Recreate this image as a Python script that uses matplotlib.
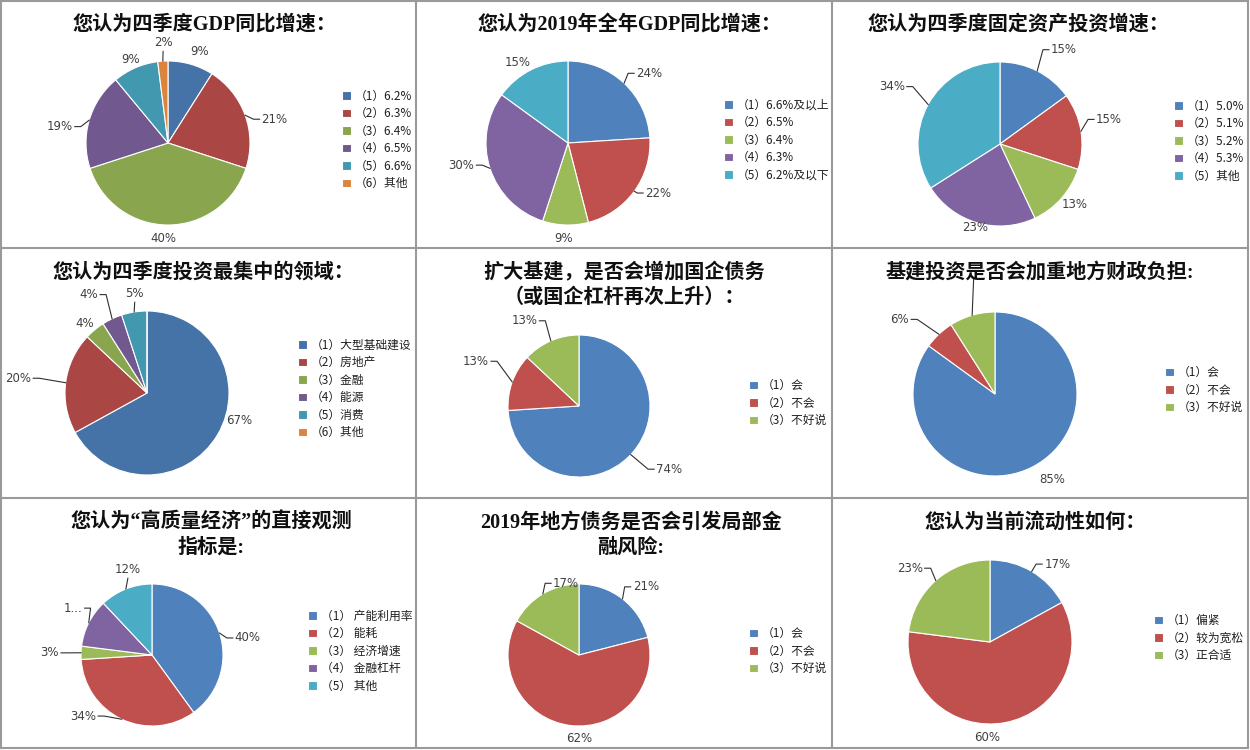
import matplotlib
matplotlib.use('Agg')
import matplotlib.pyplot as plt
import numpy as np
from matplotlib.lines import Line2D

plt.rcParams['font.family'] = ['Noto Sans CJK SC', 'DejaVu Sans']

W, H = 1250, 750

# ---------------- data ----------------
q1_title = ['您认为四季度GDP同比增速：']
q1_cats = ['（1）6.2%', '（2）6.3%', '（3）6.4%', '（4）6.5%', '（5）6.6%', '（6）其他']
q1_vals = [9, 21, 40, 19, 9, 2]

q2_title = ['您认为2019年全年GDP同比增速：']
q2_cats = ['（1）6.6%及以上', '（2）6.5%', '（3）6.4%', '（4）6.3%', '（5）6.2%及以下']
q2_vals = [24, 22, 9, 30, 15]

q3_title = ['您认为四季度固定资产投资增速：']
q3_cats = ['（1）5.0%', '（2）5.1%', '（3）5.2%', '（4）5.3%', '（5）其他']
q3_vals = [15, 15, 13, 23, 34]

q4_title = ['您认为四季度投资最集中的领域：']
q4_cats = ['（1）大型基础建设', '（2）房地产', '（3）金融', '（4）能源', '（5）消费', '（6）其他']
q4_vals = [67, 20, 4, 4, 5, 0]

q5_title = ['扩大基建，是否会增加国企债务', '（或国企杠杆再次上升）：']
q5_cats = ['（1）会', '（2）不会', '（3）不好说']
q5_vals = [74, 13, 13]

q6_title = ['基建投资是否会加重地方财政负担:']
q6_cats = ['（1）会', '（2）不会', '（3）不好说']
q6_vals = [85, 6, 9]

q7_title = ['您认为“高质量经济”的直接观测', '指标是:']
q7_cats = ['（1） 产能利用率', '（2） 能耗', '（3） 经济增速', '（4） 金融杠杆', '（5） 其他']
q7_vals = [40, 34, 3, 11, 12]

q8_title = ['2019年地方债务是否会引发局部金', '融风险:']
q8_cats = ['（1）会', '（2）不会', '（3）不好说']
q8_vals = [21, 62, 17]

q9_title = ['您认为当前流动性如何：']
q9_cats = ['（1）偏紧', '（2）较为宽松', '（3）正合适']
q9_vals = [17, 60, 23]

# label text overrides (truncated / hidden labels as in the original)
label_override = {(6, 3): '1...', (5, 2): ''}

# ---------------- styles ----------------
office = ['#4F81BD', '#C0504D', '#9BBB59', '#8064A2', '#4BACC6', '#F79646']
office_dark = ['#4572A7', '#AA4643', '#89A54E', '#71588F', '#4198AF', '#DB843D']

questions = [
    (q1_title, q1_cats, q1_vals), (q2_title, q2_cats, q2_vals), (q3_title, q3_cats, q3_vals),
    (q4_title, q4_cats, q4_vals), (q5_title, q5_cats, q5_vals), (q6_title, q6_cats, q6_vals),
    (q7_title, q7_cats, q7_vals), (q8_title, q8_cats, q8_vals), (q9_title, q9_cats, q9_vals),
]

# layout per panel: pie centre/radius (px), title x & line ys, legend x & centre y, colours,
# label positions in radius units with leader style
layout = [
    dict(cx=168, cy=143, r=82, tx=204, ty=[25], lx=342, ly=140, col=office_dark,
         lab=[(0.39, 1.11, None), (1.30, 0.29, 'h'), (-0.06, -1.17, None),
              (-1.32, 0.20, 'h'), (-0.46, 1.02, None), (-0.06, 1.22, 'v')]),
    dict(cx=568, cy=143, r=82, tx=629, ty=[25], lx=724, ly=140, col=office,
         lab=[(0.99, 0.85, 'h'), (1.10, -0.61, 'h'), (-0.06, -1.17, None),
              (-1.30, -0.27, 'h'), (-0.61, 0.98, None)]),
    dict(cx=1000, cy=144, r=82, tx=1018, ty=[25], lx=1174, ly=141, col=office,
         lab=[(0.78, 1.15, 'h'), (1.33, 0.30, 'h'), (0.91, -0.74, None),
              (-0.30, -1.02, None), (-1.32, 0.70, 'h')]),
    dict(cx=147, cy=393, r=82, tx=203, ty=[273], lx=298, ly=389, col=office_dark,
         lab=[(1.13, -0.33, None), (-1.57, 0.18, 'h'), (-0.76, 0.85, None),
              (-0.71, 1.20, 'h'), (-0.15, 1.21, 'v'), None]),
    dict(cx=579, cy=406, r=71, tx=624, ty=[273, 298], lx=749, ly=403, col=office,
         lab=[(1.27, -0.89, 'h'), (-1.45, 0.63, 'h'), (-0.77, 1.20, 'h')]),
    dict(cx=995, cy=394, r=82, tx=1040, ty=[273], lx=1165, ly=390, col=office,
         lab=[(0.70, -1.04, None), (-1.16, 0.91, 'h'), (-0.26, 1.44, 'v')]),
    dict(cx=152, cy=655, r=71, tx=211, ty=[523, 548], lx=308, ly=651, col=office,
         lab=[(1.35, 0.24, 'h'), (-0.97, -0.86, 'h'), (-1.44, 0.03, 'h'),
              (-1.11, 0.66, 'h'), (-0.34, 1.20, 'v')]),
    dict(cx=579, cy=655, r=71, tx=631, ty=[523, 548], lx=749, ly=651, col=office,
         lab=[(0.94, 0.96, 'h'), (0.00, -1.17, None), (-0.18, 1.01, 'h')]),
    dict(cx=990, cy=642, r=82, tx=1035, ty=[523], lx=1154, ly=638, col=office,
         lab=[(0.82, 0.95, 'h'), (-0.04, -1.17, None), (-0.98, 0.90, 'h')]),
]

fig = plt.figure(figsize=(W / 100, H / 100), dpi=100)
fig.patch.set_facecolor('white')
renderer = fig.canvas.get_renderer()

K = 1.9
text_col = '#404040'
for qi, ((title, cats, vals), L) in enumerate(zip(questions, layout)):
    cx, cy, r = L['cx'], L['cy'], L['r']
    ax = fig.add_axes([(cx - K * r) / W, 1 - (cy + K * r) / H, 2 * K * r / W, 2 * K * r / H])
    ax.patch.set_visible(False)
    wedges, _ = ax.pie(vals, colors=L['col'][:len(vals)], startangle=90, counterclock=False,
                       radius=1.0, wedgeprops=dict(edgecolor='white', linewidth=0.8))
    ax.set_xlim(-K, K)
    ax.set_ylim(-K, K)
    ax.set_axis_off()

    for i, (w, v) in enumerate(zip(wedges, vals)):
        spec = L['lab'][i]
        if spec is None:
            continue
        px, py, mode = spec
        s = label_override.get((qi, i), f'{v}%')
        mid = np.deg2rad((w.theta1 + w.theta2) / 2)
        sx, sy = np.cos(mid), np.sin(mid)
        if s:
            t = ax.text(px, py, s, ha='center', va='center', fontsize=8.5, color=text_col,
                        family=['DejaVu Sans'])
            bb = t.get_window_extent(renderer)
            hw = bb.width / 2 / r
            hh = bb.height / 2 / r
        else:
            hw, hh = 0.0, 0.0
        gap = 2 / r
        if mode == 'h':
            d = 1 if px > sx else -1
            ex = px - d * (hw + gap)
            ey = py
            elx = ex - d * 6 / r
            ax.add_line(Line2D([sx, elx, ex], [sy, ey, ey], color='#303030', lw=0.8))
        elif mode == 'v':
            d = 1 if py > sy else -1
            ex, ey = px, py - d * (hh + gap)
            ax.add_line(Line2D([sx, ex], [sy, ey], color='#303030', lw=0.8))

    ax.legend(wedges, cats, loc='center left', bbox_to_anchor=(L['lx'] / W, 1 - L['ly'] / H),
              bbox_transform=fig.transFigure, frameon=False, fontsize=8.5,
              handlelength=0.75, handleheight=0.75, handletextpad=0.35,
              labelspacing=0.38, borderpad=0, borderaxespad=0, labelcolor='#202020')

    for line, y in zip(title, L['ty']):
        fig.text(L['tx'] / W, 1 - y / H, line, ha='center', va='center', fontsize=14.5,
                 fontweight='bold', color='#101010',
                 family=['Liberation Serif', 'Noto Sans CJK SC', 'DejaVu Sans'])

# panel borders
bc = '#9A9A9A'
for x in [1, 416, 832, 1248]:
    fig.add_artist(Line2D([x / W, x / W], [1 - 1 / H, 1 - 748 / H], transform=fig.transFigure,
                          color=bc, lw=1.5))
for y in [1, 248, 498, 748]:
    fig.add_artist(Line2D([1 / W, 1248 / W], [1 - y / H, 1 - y / H], transform=fig.transFigure,
                          color=bc, lw=1.5))

fig.savefig('out.png', dpi=100, facecolor='white')
